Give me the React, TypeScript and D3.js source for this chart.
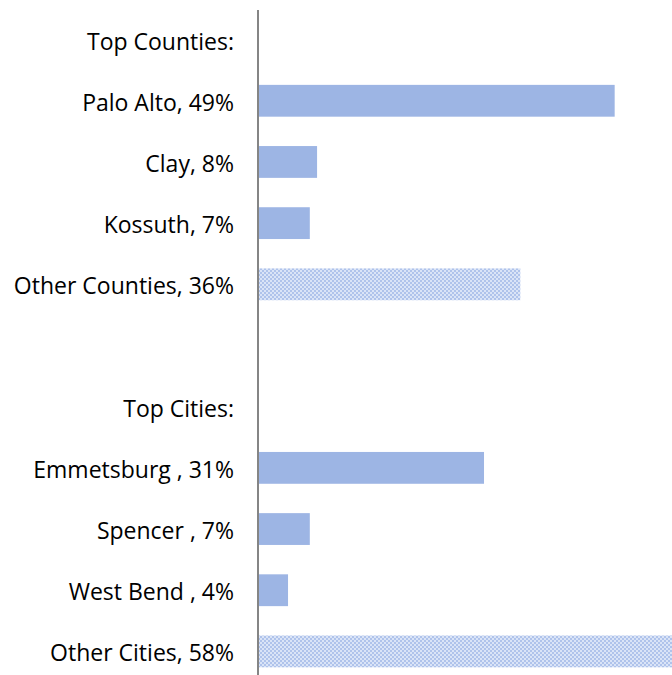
import React from "react";
import * as d3 from "d3";

const categories = [
  "Top Counties:",
  "Palo Alto, 49%",
  "Clay, 8%",
  "Kossuth, 7%",
  "Other Counties, 36%",
  "",
  "Top Cities:",
  "Emmetsburg , 31%",
  "Spencer , 7%",
  "West Bend , 4%",
  "Other Cities, 58%",
];
const values = [null, 49, 8, 7, 36, null, null, 31, 7, 4, 58];
const patterned = [false, false, false, false, true, false, false, false, false, false, true];

export default function App() {
  const W = 672, H = 675;
  const x0 = 259;
  const x = d3.scaleLinear().domain([0, 58]).range([x0, 680]);
  const y = d3.scaleBand<number>()
    .domain(categories.map((_, i) => i))
    .range([9, 682])
    .paddingInner(0.48)
    .paddingOuter(0.24);
  return (
    <svg width={W} height={H} style={{ position: "absolute", left: 0, top: 0 }}>
      <defs>
        <pattern id="chk" width="4" height="4" patternUnits="userSpaceOnUse">
          <rect width="4" height="4" fill="#dae4f7" />
          <rect x="0" y="0" width="2" height="2" fill="#afc3eb" />
          <rect x="2" y="2" width="2" height="2" fill="#afc3eb" />
        </pattern>
      </defs>
      <rect width={W} height={H} fill="#fff" />
      {categories.map((c, i) => {
        const v = values[i];
        const yy = y(i)!;
        return (
          <g key={i}>
            {v !== null && (
              <rect
                x={x(0)}
                y={yy}
                width={x(v) - x(0)}
                height={y.bandwidth()}
                fill={patterned[i] ? "url(#chk)" : "#9db5e4"}
              />
            )}
            <text
              x={234}
              y={yy + y.bandwidth() / 2 + 1}
              textAnchor="end"
              dominantBaseline="central"
              fontFamily="'Open Sans', sans-serif"
              fontSize={23}
              fill="#000"
            >
              {c}
            </text>
          </g>
        );
      })}
      <line x1={258} x2={258} y1={10} y2={675} stroke="#858585" strokeWidth={2} />
    </svg>
  );
}
